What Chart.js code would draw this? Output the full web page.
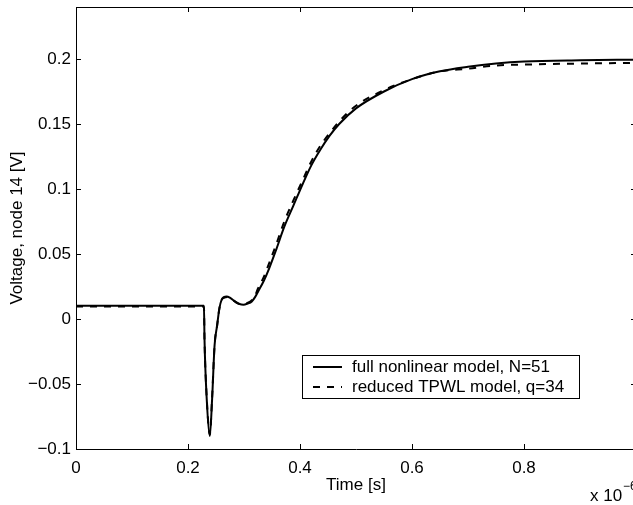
<!DOCTYPE html>
<html>
<head>
<meta charset="utf-8">
<script src="https://cdn.jsdelivr.net/npm/chart.js@4.4.0/dist/chart.umd.min.js"></script>
<style>
html, body { margin: 0; padding: 0; background: #fff; overflow: hidden; }
#wrap { width: 633px; height: 505px; overflow: hidden; }
</style>
</head>
<body>
<div id="wrap"><canvas id="chart" width="640" height="505"></canvas></div>
<script>
// time in units of 1e-6 s
const timeFull = [0, 0.2285, 0.2295, 0.2335, 0.239, 0.243, 0.2475, 0.252, 0.256, 0.26, 0.264, 0.269, 0.276, 0.284, 0.292, 0.299, 0.306, 0.314, 0.32, 0.325, 0.335, 0.345, 0.358, 0.372, 0.388, 0.405, 0.42, 0.436, 0.453, 0.47, 0.5, 0.55, 0.6, 0.65, 0.7, 0.75, 0.8, 0.9, 1.0];
const voltFull = [0.0102, 0.0102, -0.016, -0.062, -0.090, -0.062, -0.02, -0.005, 0.008, 0.0148, 0.0168, 0.0174, 0.016, 0.0135, 0.0115, 0.011, 0.0118, 0.0135, 0.017, 0.021, 0.029, 0.039, 0.054, 0.071, 0.087, 0.104, 0.118, 0.130, 0.141, 0.150, 0.162, 0.175, 0.1845, 0.1905, 0.194, 0.1965, 0.198, 0.199, 0.1995];

const timeReduced = [0, 0.2285, 0.2295, 0.2335, 0.239, 0.243, 0.2475, 0.252, 0.256, 0.26, 0.265, 0.27, 0.277, 0.285, 0.293, 0.30, 0.307, 0.314, 0.32, 0.325, 0.335, 0.345, 0.358, 0.372, 0.388, 0.405, 0.42, 0.436, 0.453, 0.47, 0.5, 0.55, 0.6, 0.65, 0.7, 0.75, 0.8, 0.9, 1.0];
const voltReduced = [0.0097, 0.0097, -0.016, -0.061, -0.089, -0.061, -0.02, -0.005, 0.008, 0.0145, 0.0165, 0.017, 0.0155, 0.013, 0.0115, 0.0115, 0.0125, 0.0145, 0.018, 0.0235, 0.032, 0.043, 0.058, 0.075, 0.091, 0.107, 0.121, 0.133, 0.143, 0.152, 0.164, 0.176, 0.1845, 0.1905, 0.1925, 0.195, 0.1957, 0.1965, 0.197];

const xTicks = [0, 0.2, 0.4, 0.6, 0.8];
const yTicks = [-0.1, -0.05, 0, 0.05, 0.1, 0.15, 0.2];
const seriesLabels = ['full nonlinear model, N=51', 'reduced TPWL model, q=34'];

const FONT = "'Liberation Sans', Arial, Helvetica, sans-serif";
Chart.defaults.font.family = FONT;
Chart.defaults.font.size = 17;
Chart.defaults.color = '#000';

const fmt = v => String(+v.toFixed(2)).replace('-', '\u2212');

// MATLAB style box: inward ticks on all four sides, legend box, exponent label
const matlabBox = {
    id: 'matlabBox',
    afterDraw(chart) {
        const {ctx, chartArea: a, scales: {x, y}} = chart;
        ctx.save();
        ctx.strokeStyle = '#000';
        ctx.lineWidth = 1;
        ctx.beginPath();
        ctx.moveTo(a.left, a.top + 0.5); ctx.lineTo(a.right, a.top + 0.5);
        ctx.moveTo(a.right - 0.5, a.top); ctx.lineTo(a.right - 0.5, a.bottom);
        xTicks.forEach(v => {
            const px = Math.round(x.getPixelForValue(v)) + 0.5;
            ctx.moveTo(px, a.bottom); ctx.lineTo(px, a.bottom - 5);
            ctx.moveTo(px, a.top); ctx.lineTo(px, a.top + 5);
        });
        yTicks.forEach(v => {
            const py = Math.round(y.getPixelForValue(v)) + 0.5;
            ctx.moveTo(a.left, py); ctx.lineTo(a.left + 5, py);
            ctx.moveTo(a.right, py); ctx.lineTo(a.right - 5, py);
        });
        ctx.stroke();

        // legend
        ctx.fillStyle = '#fff';
        ctx.fillRect(302.5, 355.5, 277, 43);
        ctx.strokeRect(302.5, 355.5, 277, 43);
        ctx.font = '17px ' + FONT;
        ctx.textBaseline = 'middle';
        chart.data.datasets.forEach((ds, i) => {
            const ly = 367 + i * 20;
            ctx.beginPath();
            ctx.lineWidth = ds.borderWidth;
            ctx.setLineDash(ds.borderDash || []);
            ctx.moveTo(313, ly); ctx.lineTo(342, ly);
            ctx.stroke();
            ctx.setLineDash([]);
            ctx.fillStyle = '#000';
            ctx.fillText(ds.label, 352, ly);
        });

        // exponent
        ctx.fillText('x 10', 590, 496);
        ctx.font = '12px ' + FONT;
        ctx.fillText('\u22126', 623, 487);
        ctx.restore();
    }
};

const ctx = document.getElementById('chart');

new Chart(ctx, {
    type: 'line',
    data: {
        datasets: [
            {
                label: seriesLabels[0],
                data: timeFull.map((t, i) => ({x: t, y: voltFull[i]})),
                borderColor: '#000',
                borderWidth: 2,
                pointRadius: 0,
                cubicInterpolationMode: 'monotone'
            },
            {
                label: seriesLabels[1],
                data: timeReduced.map((t, i) => ({x: t, y: voltReduced[i]})),
                borderColor: '#000',
                borderWidth: 2,
                borderDash: [7, 7],
                pointRadius: 0,
                cubicInterpolationMode: 'monotone'
            }
        ]
    },
    options: {
        responsive: false,
        animation: false,
        devicePixelRatio: 1,
        layout: { padding: { top: 7, right: 4, left: 0, bottom: 0 } },
        plugins: {
            legend: { display: false },
            tooltip: { enabled: false }
        },
        scales: {
            x: {
                type: 'linear',
                min: 0,
                max: 1,
                grid: { display: false, drawTicks: false },
                border: { display: true, color: '#000', width: 1 },
                afterBuildTicks: s => { s.ticks = xTicks.map(v => ({value: v})); },
                afterFit: s => { s.height = 56; s.paddingLeft = 0; s.paddingRight = 0; },
                ticks: { padding: 9, maxRotation: 0, autoSkip: false, callback: v => fmt(v) },
                title: { display: true, text: 'Time [s]', padding: { top: 0, bottom: 9 } }
            },
            y: {
                min: -0.1,
                max: 0.24,
                grid: { display: false, drawTicks: false },
                border: { display: true, color: '#000', width: 1 },
                afterBuildTicks: s => { s.ticks = yTicks.map(v => ({value: v})); },
                afterFit: s => { s.width = 76; s.paddingTop = 0; s.paddingBottom = 0; },
                ticks: { padding: 5, autoSkip: false, callback: v => fmt(v) },
                title: { display: true, text: 'Voltage, node 14 [V]', padding: { top: 7, bottom: 0 } }
            }
        }
    },
    plugins: [matlabBox]
});
</script>
</body>
</html>
